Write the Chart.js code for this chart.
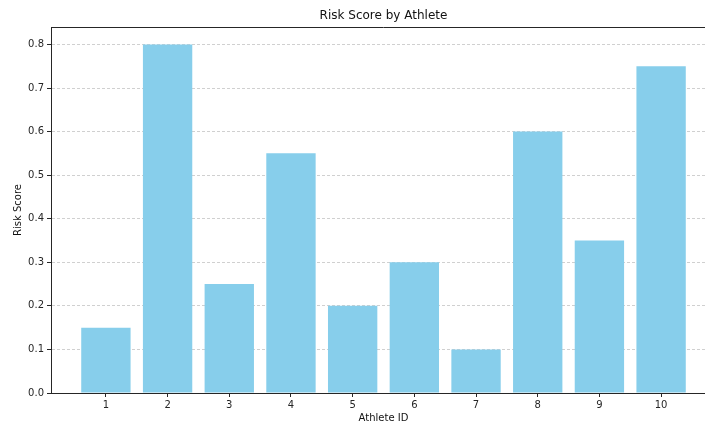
<!DOCTYPE html>
<html>
<head>
<meta charset="utf-8">
<script src="https://cdn.jsdelivr.net/npm/chart.js@4/dist/chart.umd.min.js"></script>
<style>
  html, body { margin: 0; padding: 0; overflow: hidden; background: #fff; width: 705px; height: 424px; }
  #c { display: block; }
</style>
</head>
<body>
<canvas id="c" width="717" height="424"></canvas>
<script>
const athleteIds = [1, 2, 3, 4, 5, 6, 7, 8, 9, 10];
const riskScores = [0.15, 0.80, 0.25, 0.55, 0.20, 0.30, 0.10, 0.60, 0.35, 0.75];
const yTickValues = [0.0, 0.1, 0.2, 0.3, 0.4, 0.5, 0.6, 0.7, 0.8];
const chartTitle = 'Risk Score by Athlete';
const xAxisLabel = 'Athlete ID';
const yAxisLabel = 'Risk Score';

const FONT = "'DejaVu Sans', sans-serif";
const INK = '#262626';

const framePlugin = {
  id: 'frame',
  afterDraw(chart) {
    const { ctx, chartArea: a } = chart;
    ctx.save();
    ctx.strokeStyle = INK;
    ctx.lineWidth = 1;
    ctx.beginPath();
    ctx.moveTo(a.left, a.top + 0.5);
    ctx.lineTo(a.right, a.top + 0.5);
    ctx.moveTo(a.right - 0.5, a.top);
    ctx.lineTo(a.right - 0.5, a.bottom);
    ctx.stroke();
    ctx.fillStyle = '#111';
    ctx.font = '12px ' + FONT;
    ctx.textAlign = 'center';
    ctx.textBaseline = 'middle';
    ctx.fillText(chartTitle, (a.left + a.right) / 2, 16);
    ctx.restore();
  }
};

new Chart(document.getElementById('c'), {
  type: 'bar',
  data: {
    datasets: [{
      label: yAxisLabel,
      data: athleteIds.map((id, i) => ({ x: id, y: riskScores[i] })),
      backgroundColor: '#87CEEB',
      borderWidth: 0,
      barPercentage: 0.8,
      categoryPercentage: 1.0
    }]
  },
  options: {
    responsive: false,
    animation: false,
    devicePixelRatio: 1,
    layout: { padding: { top: 27, right: 1, bottom: 0, left: 0 } },
    plugins: {
      legend: { display: false },
      tooltip: { enabled: false },
      title: { display: false }
    },
    scales: {
      x: {
        type: 'linear',
        min: 0.11,
        max: 10.89,
        offset: false,
        afterBuildTicks(scale) { scale.ticks = athleteIds.map(v => ({ value: v })); },
        afterFit(scale) { scale.height = 31; },
        ticks: {
          callback: v => String(v),
          color: INK,
          font: { family: FONT, size: 10 },
          padding: 2,
          maxRotation: 0,
          autoSkip: false
        },
        grid: {
          display: true,
          offset: false,
          drawOnChartArea: false,
          drawTicks: true,
          tickLength: 4,
          tickColor: INK,
          tickWidth: 1,
          z: 0
        },
        border: { display: true, color: INK, width: 1, z: 1 },
        title: {
          display: true,
          text: xAxisLabel,
          color: '#111',
          font: { family: FONT, size: 10 },
          padding: { top: 0, bottom: 0 }
        }
      },
      y: {
        type: 'linear',
        min: 0,
        max: 0.84,
        afterBuildTicks(scale) { scale.ticks = yTickValues.map(v => ({ value: v })); },
        afterFit(scale) { scale.width = 51; },
        ticks: {
          callback: v => Number(v).toFixed(1),
          color: INK,
          font: { family: FONT, size: 10 },
          padding: 3
        },
        grid: {
          display: true,
          drawOnChartArea: true,
          color: 'rgba(176,176,176,0.75)',
          lineWidth: 0.8,
          drawTicks: true,
          tickLength: 4,
          tickColor: INK,
          tickWidth: 1,
          z: 0
        },
        border: { display: true, color: INK, width: 1, dash: [3, 2], z: 1 },
        title: {
          display: true,
          text: yAxisLabel,
          color: '#111',
          font: { family: FONT, size: 10 },
          padding: { top: 12, bottom: 0 }
        }
      }
    }
  },
  plugins: [framePlugin]
});
</script>
</body>
</html>
